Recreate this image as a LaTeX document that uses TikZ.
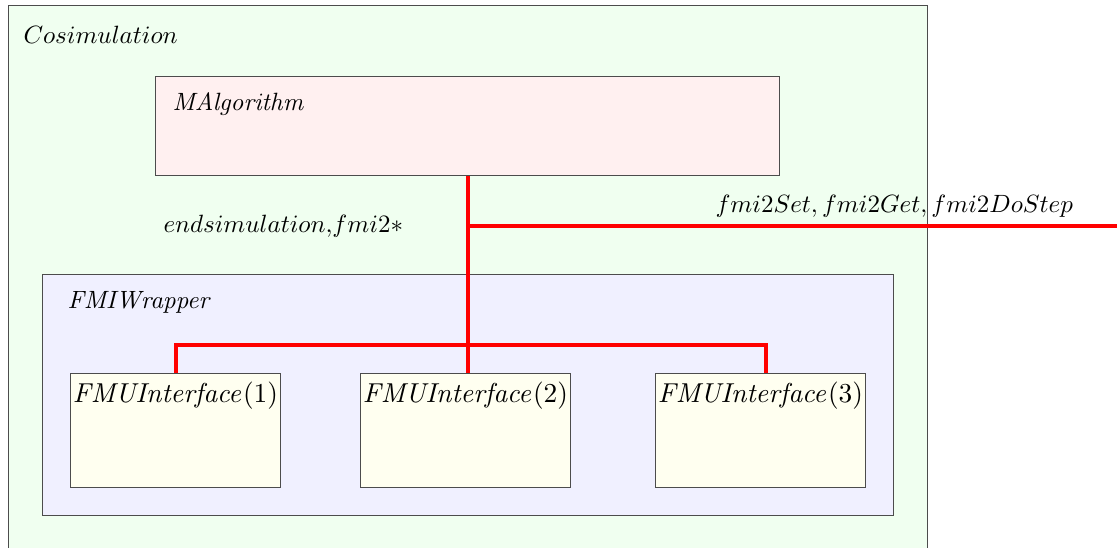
\documentclass[tikz,border=0pt]{standalone}
\usepackage{tikz}
\definecolor{cosimfill}{RGB}{240,255,240}
\definecolor{algofill}{RGB}{255,240,240}
\definecolor{wrapfill}{RGB}{240,240,255}
\definecolor{fmufill}{RGB}{255,255,240}
\begin{document}
\begin{tikzpicture}[x=0.4pt,y=-0.4pt]
        \tikzstyle{block}=[draw=black!70,anchor=north west,inner sep=0pt]
        \tikzstyle{fmu}=[block,fill=fmufill,minimum width=84pt,minimum height=45.6pt]
        \tikzstyle{title}=[anchor=base west,inner sep=0pt]
        \tikzstyle{edge}=[draw=red, ultra thick]
       \useasboundingbox (0,0) rectangle (1117,547);
       \begin{scope}
         \node [block,fill=cosimfill,minimum width=367.6pt,minimum height=224pt] (cosim) at (8,5) {};
         \node [block,fill=algofill,minimum width=249.6pt,minimum height=39.6pt] (malg) at (155,76) {};
         \node [block,fill=wrapfill,minimum width=340.4pt,minimum height=96.4pt] (wrapper) at (42,274) {};
         \node [fmu] (fmu1) at (70,373) {};
         \node [fmu] (fmu2) at (360,373) {};
         \node [fmu] (fmu3) at (655,373) {};
         % labels
         \node [title] (cosimlabel) at (23,43) {$Cosimulation$};
         \node [title] (malglabel) at (172,110) {$\mathit{MAlgorithm}$};
         \node [title] (wrapperlabel) at (67,308) {$\mathit{FMIWrapper}$};
         \node [title] (endlabel) at (163,232) {$endsimulation{,}fmi2*$};
         \node [title] (buslabel) at (715,212) {$fmi2Set, fmi2Get, fmi2DoStep$};
         \foreach \i in {1,2,3}
           \node [anchor=base,inner sep=0pt,font=\fontsize{10.5pt}{12pt}\selectfont] (fmulabel\i) at ([yshift=-11.6pt]fmu\i.north) {$\mathit{FMUInterface}(\i)$};
         % connectors
         \coordinate (junction) at (467,345);
         \coordinate (busend) at (1117,226);
         \path[edge] (malg.south) -- (fmu2.north -| malg.south);
         \path[edge] (fmu1.north) |- (junction) -| ([xshift=2pt]fmu3.north);
         \path[edge] (malg.south |- busend) -- (busend);
        \end{scope}
      \end{tikzpicture}
\end{document}
